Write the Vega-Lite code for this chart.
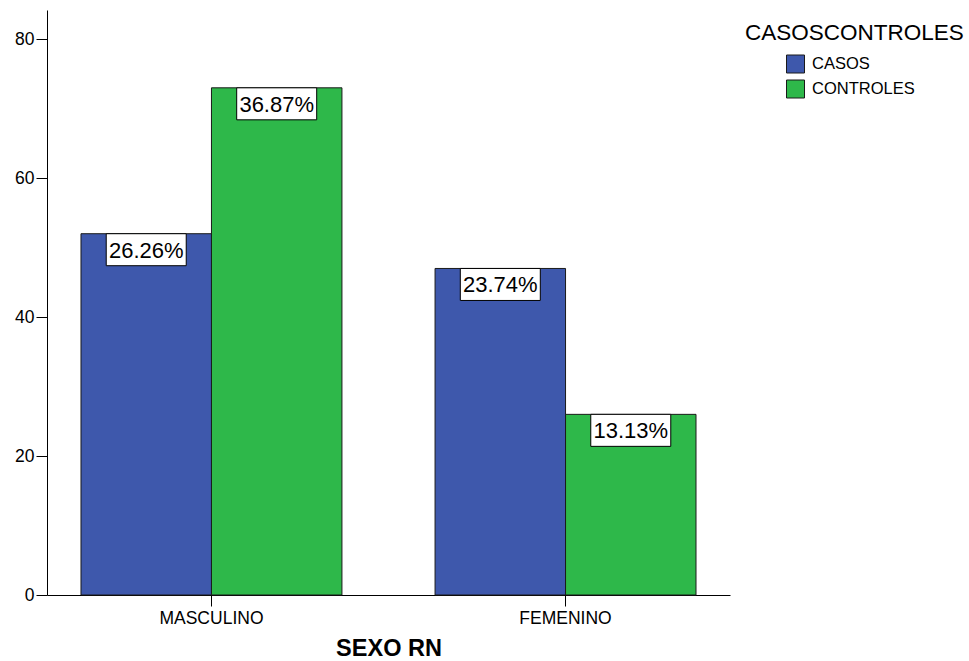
{
  "$schema": "https://vega.github.io/schema/vega-lite/v6.json",
  "autosize": {"type": "none"},
  "width": 683,
  "height": 585,
  "padding": {"left": 47, "top": 10, "right": 239, "bottom": 66},
  "background": "white",
  "config": {
    "view": {"stroke": null},
    "font": "Liberation Sans",
    "axis": {"domainColor": "black", "tickColor": "black", "labelColor": "black", "titleColor": "black", "grid": false, "labelFont": "Liberation Sans", "titleFont": "Liberation Sans"}
  },
  "data": {
    "values": [
      {"SEXO": "MASCULINO", "GRUPO": "CASOS", "n": 52, "pct": "26.26%"},
      {"SEXO": "MASCULINO", "GRUPO": "CONTROLES", "n": 73, "pct": "36.87%"},
      {"SEXO": "FEMENINO", "GRUPO": "CASOS", "n": 47, "pct": "23.74%"},
      {"SEXO": "FEMENINO", "GRUPO": "CONTROLES", "n": 26, "pct": "13.13%"}
    ]
  },
  "encoding": {
    "x": {
      "field": "SEXO", "type": "nominal", "sort": ["MASCULINO", "FEMENINO"],
      "scale": {"paddingInner": 0.263, "paddingOuter": 0.096},
      "axis": {"title": "SEXO RN", "titleFontSize": 23.5, "titleFontWeight": "bold", "titlePadding": 10, "labelAngle": 0, "labelFontSize": 17.5, "tickSize": 11, "labelPadding": 3}
    },
    "xOffset": {"field": "GRUPO", "type": "nominal", "sort": ["CASOS", "CONTROLES"], "scale": {"paddingInner": 0, "paddingOuter": 0}},
    "y": {
      "field": "n", "type": "quantitative",
      "scale": {"domain": [0, 84.2], "nice": false},
      "axis": {"title": null, "values": [0, 20, 40, 60, 80], "labelFontSize": 17.5, "tickSize": 11, "labelPadding": 2}
    }
  },
  "layer": [
    {
      "mark": {"type": "bar", "stroke": "#1a1a1a", "strokeWidth": 1},
      "encoding": {
        "color": {
          "field": "GRUPO", "type": "nominal",
          "scale": {"domain": ["CASOS", "CONTROLES"], "range": ["#3E58AC", "#2EB84A"]},
          "legend": {
            "title": "CASOSCONTROLES", "orient": "none", "legendX": 698, "legendY": 12,
            "titleFontSize": 22.5, "titleFontWeight": "normal", "titleColor": "black", "titlePadding": 10, "titleLimit": 400,
            "labelFontSize": 16.5, "labelColor": "black", "labelOffset": 7, "labelLimit": 300,
            "symbolType": "square", "symbolSize": 324, "symbolStrokeColor": "#1a1a1a", "symbolStrokeWidth": 1,
            "symbolOffset": 41, "rowPadding": 2
          }
        }
      }
    },
    {
      "mark": {"type": "point", "shape": "M-1,-0.4L1,-0.4L1,0.4L-1,0.4Z", "size": 6400, "filled": true, "fill": "white", "stroke": "black", "strokeWidth": 1, "opacity": 1, "yOffset": 16}
    },
    {
      "mark": {"type": "text", "fontSize": 22, "baseline": "middle", "align": "center", "yOffset": 17, "color": "black"},
      "encoding": {"text": {"field": "pct"}}
    }
  ]
}
